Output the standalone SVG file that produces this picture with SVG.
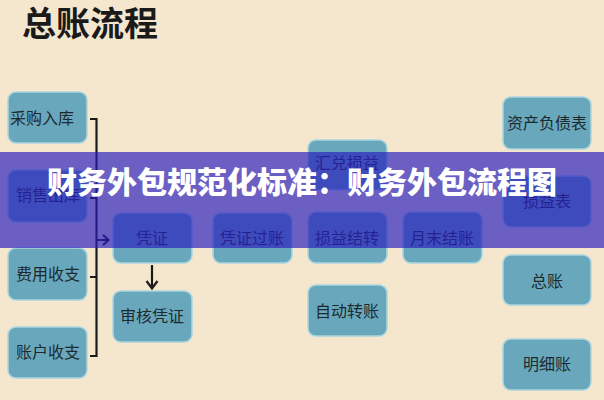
<svg xmlns="http://www.w3.org/2000/svg" width="604" height="400" viewBox="0 0 604 400">
<defs>
<style>
.bg{fill:#F5E6CE}
.node rect{fill:#69A8BC;stroke:#A9D6DF;stroke-width:1.5}
.node text{font-family:"Noto Sans CJK SC","Noto Sans CJK JP",sans-serif;font-size:16px;fill:#1c2a30;text-anchor:middle;dominant-baseline:central}
.title{font-family:"Noto Sans CJK SC",sans-serif;font-size:34px;font-weight:bold;fill:#1a1a1a}
.ln{fill:none;stroke:#1a1a1a;stroke-width:2.2}
.banner-text{font-family:"Noto Sans CJK SC",sans-serif;font-size:30px;font-weight:900;fill:#ffffff;text-anchor:middle}
</style>
</defs>
<rect class="bg" x="0" y="0" width="604" height="400"/>
<text class="title" x="22" y="36">总账流程</text>

<g id="n-caigou" class="node"><rect x="8" y="92" width="79" height="51" rx="8"/><text x="42" y="117">采购入库</text></g>
<g id="n-xiaoshou" class="node"><rect x="8" y="170" width="79" height="52" rx="8"/><text x="48" y="194">销售出库</text></g>
<g id="n-feiyong" class="node"><rect x="8" y="248" width="79" height="52" rx="8"/><text x="48" y="273">费用收支</text></g>
<g id="n-zhanghu" class="node"><rect x="8" y="327" width="79" height="51" rx="8"/><text x="48" y="351">账户收支</text></g>

<g id="n-pingzheng" class="node"><rect x="113" y="213" width="79" height="50" rx="8"/><text x="152" y="237">凭证</text></g>
<g id="n-shenhe" class="node"><rect x="113" y="291" width="79" height="51" rx="8"/><text x="152" y="315">审核凭证</text></g>
<g id="n-guozhang" class="node"><rect x="213" y="213" width="79" height="50" rx="8"/><text x="252" y="237">凭证过账</text></g>

<g id="n-huidui" class="node"><rect x="308" y="140" width="79" height="50" rx="8"/><text x="347" y="162">汇兑损益</text></g>
<g id="n-sunyijiezhuan" class="node"><rect x="308" y="212" width="79" height="51" rx="8"/><text x="347" y="237">损益结转</text></g>
<g id="n-zidong" class="node"><rect x="308" y="285" width="79" height="51" rx="8"/><text x="347" y="310">自动转账</text></g>
<g id="n-yuemo" class="node"><rect x="403" y="212" width="79" height="51" rx="8"/><text x="442" y="237">月末结账</text></g>

<g id="n-zichan" class="node"><rect x="503" y="97" width="88" height="52" rx="8"/><text x="547" y="122">资产负债表</text></g>
<g id="n-sunyibiao" class="node"><rect x="503" y="176" width="88" height="51" rx="8"/><text x="547" y="200">损益表</text></g>
<g id="n-zongzhang" class="node"><rect x="503" y="255" width="88" height="50" rx="8"/><text x="547" y="280">总账</text></g>
<g id="n-mingxi" class="node"><rect x="503" y="339" width="88" height="51" rx="8"/><text x="547" y="363">明细账</text></g>

<g id="connectors">
<path class="ln" d="M90 119 H96.5 V356 H90 M90 198 H96.5 M90 277 H96.5"/>
<path class="ln" d="M96.5 240 H108 M103 235 L108.5 240 L103 245"/>
<path class="ln" d="M152 265 V288 M146.5 281 L152 288.5 L157.5 281"/>
</g>

<rect x="0" y="152" width="604" height="96" fill="#2A1FBE" fill-opacity="0.68"/>
<text class="banner-text" x="302" y="193">财务外包规范化标准：财务外包流程图</text>
</svg>
